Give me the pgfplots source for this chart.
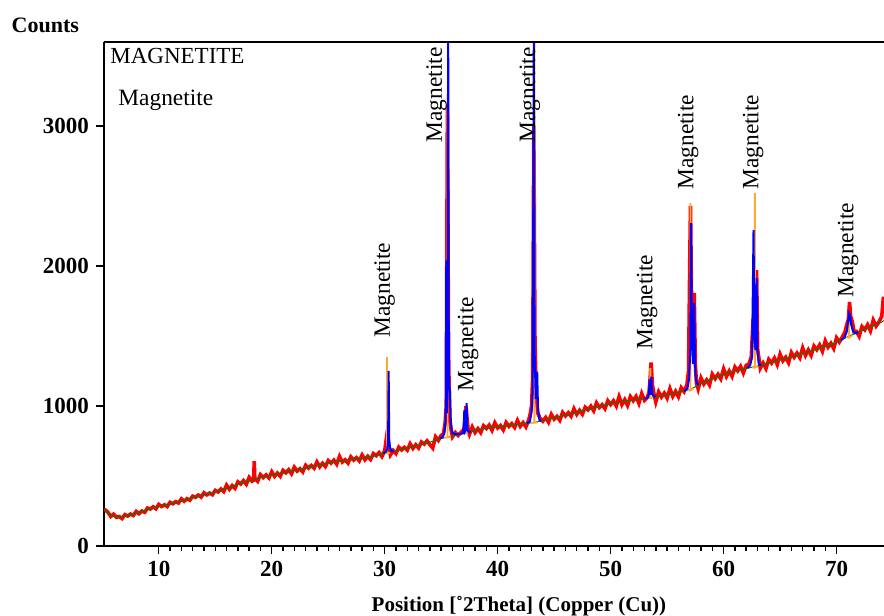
\documentclass[border=0pt]{standalone}
\usepackage{fontspec}
\setmainfont{Liberation Serif}
\usepackage{pgfplots}
\pgfplotsset{compat=1.18}
\usetikzlibrary{calc}
\definecolor{obsred}{RGB}{255,0,0}
\definecolor{calcgreen}{RGB}{0,128,0}
\definecolor{fitblue}{RGB}{0,0,255}
\definecolor{reforange}{RGB}{255,170,50}

% observed counts (noisy)
\pgfplotstableread{
x y
5.15 262
5.25 258
5.5 241
5.75 211
6.0 227
6.25 205
6.5 210
6.75 196
7.0 224
7.25 214
7.5 228
7.75 218
8.0 247
8.25 231
8.5 250
8.75 241
9.0 271
9.25 264
9.5 280
9.75 266
10.0 297
10.25 282
10.5 294
10.75 282
11.0 312
11.25 302
11.5 317
11.75 307
12.0 337
12.25 320
12.5 338
12.75 327
13.0 356
13.25 348
13.5 364
13.75 349
14.0 380
14.25 365
14.5 378
14.75 366
15.0 397
15.25 386
15.5 407
15.75 389
16.0 435
16.25 405
16.5 432
16.75 412
17.0 458
17.25 443
17.5 467
17.75 441
18.0 490
18.25 463
18.4 470
18.45 605
18.5 482
18.75 462
19.0 510
19.25 489
19.5 508
19.75 486
20.0 530
20.25 497
20.5 521
20.75 498
21.0 540
21.25 523
21.5 545
21.75 516
22.0 563
22.25 535
22.5 552
22.75 529
23.0 576
23.25 556
23.5 575
23.75 555
24.0 600
24.25 566
24.5 591
24.75 568
25.0 610
25.25 592
25.5 613
25.75 584
26.0 640
26.25 600
26.5 616
26.75 592
27.0 637
27.25 614
27.5 631
27.75 608
28.0 650
28.25 616
28.5 641
28.75 618
29.0 660
29.25 645
29.5 667
29.75 639
30.0 680
30.15 770
30.25 740
30.35 700
30.5 650
30.75 682
31.0 660
31.25 706
31.5 686
31.75 705
32.0 685
32.25 730
32.5 697
32.75 723
33.0 700
33.25 743
33.5 728
33.75 751
34.0 724
34.25 700
34.5 780
34.75 754
35.0 790
35.2 800
35.35 880
35.45 1000
35.55 3150
35.65 1400
35.75 900
35.9 820
36.0 780
36.25 810
36.5 789
36.75 812
37.0 830
37.1 880
37.2 1000
37.3 900
37.4 820
37.5 797
37.75 850
38.0 810
38.25 838
38.5 810
38.75 859
39.0 839
39.25 863
39.5 826
39.75 880
40.0 843
40.25 860
40.5 829
40.75 882
41.0 854
41.25 874
41.5 847
41.75 897
42.0 855
42.25 881
42.5 851
42.75 900
42.9 950
43.0 1000
43.1 1200
43.2 3000
43.3 1500
43.4 1100
43.55 950
43.75 912
44.0 892
44.25 918
44.5 884
44.75 940
45.0 906
45.25 926
45.5 898
45.75 954
46.0 929
46.25 952
46.5 927
46.75 980
47.0 940
47.25 969
47.5 941
47.75 991
48.0 972
48.25 999
48.5 966
48.75 1022
49.0 989
49.25 1009
49.5 981
49.75 1037
50.0 1010
50.25 1037
50.5 1000
50.75 1067
51.0 1010
51.25 1045
51.5 1004
51.75 1067
52.0 1038
52.25 1068
52.5 1019
52.75 1089
53.0 1040
53.25 1060
53.4 1100
53.5 1200
53.58 1310
53.7 1150
53.85 1080
54.0 1029
54.25 1101
54.5 1064
54.75 1092
55.0 1056
55.25 1124
55.5 1069
55.75 1105
56.0 1066
56.25 1130
56.5 1103
56.75 1150
56.9 1250
57.0 2000
57.07 2430
57.2 1500
57.4 1807
57.5 1300
57.6 1160
57.75 1121
58.0 1200
58.25 1157
58.5 1186
58.75 1150
59.0 1227
59.25 1195
59.5 1226
59.75 1194
60.0 1265
60.25 1211
60.5 1250
60.75 1212
61.0 1278
61.25 1251
61.5 1283
61.75 1236
62.0 1290
62.25 1300
62.45 1350
62.6 1600
62.72 1700
62.82 1500
62.92 1971
63.02 1400
63.15 1330
63.25 1270
63.5 1307
63.75 1268
64.0 1333
64.25 1307
64.5 1342
64.75 1296
65.0 1370
65.25 1323
65.5 1348
65.75 1309
66.0 1382
66.25 1348
66.5 1378
66.75 1345
67.0 1415
67.25 1361
67.5 1400
67.75 1362
68.0 1428
68.25 1402
68.5 1436
68.75 1391
69.0 1465
69.25 1420
69.5 1448
69.75 1411
70.0 1487
70.25 1457
70.5 1491
70.75 1530
70.9 1580
71.05 1620
71.15 1743
71.25 1640
71.4 1600
71.55 1530
71.75 1533
72.0 1498
72.25 1567
72.5 1544
72.75 1580
73.0 1537
73.25 1614
73.5 1571
73.75 1599
74.0 1640
74.15 1780
74.2 1700
}\observed

% calculated background
\pgfplotstableread{
x y
5.15 262
5.5 232
6 212
6.5 207
7 212
8 232
9 260
10 282
11 300
12 322
13 345
14 365
15 385
16 410
17 440
18 465
19 490
20 505
21 522
22 538
23 556
24 575
25 592
26 605
27 617
28 625
29 642
30 662
31 682
32 700
33 720
34 742
35 768
36 785
37 805
38 825
39 842
40 852
41 860
42 870
43 880
44 895
45 915
46 935
47 955
48 975
49 998
50 1018
51 1030
52 1042
53 1052
54 1065
55 1080
56 1098
57 1115
58 1160
59 1195
60 1225
61 1250
62 1268
63 1285
64 1305
65 1330
66 1350
67 1375
68 1400
69 1425
70 1455
71 1495
72 1530
73 1565
74 1600
74.2 1610
}\background

\begin{document}
\begin{tikzpicture}
\begin{axis}[
  scale only axis, width=390pt, height=252pt,
  xmin=5.15, xmax=74.2, ymin=0, ymax=3600,
  axis x line*=bottom, axis y line*=left,
  axis line style={-, line width=1pt},
  xtick={10,20,...,70}, minor x tick num=9,
  ytick={0,1000,2000,3000},
  tick align=outside, major tick length=4pt, minor tick length=2.5pt,
  every tick/.style={black, line width=0.7pt},
  tick label style={font=\fontsize{11.5}{13}\selectfont\bfseries},
  /pgf/number format/assume math mode=true,
  /pgf/number format/set thousands separator={},
  xlabel={Position [˚2Theta] (Copper (Cu))},
  every axis x label/.style={at={(rel axis cs:0.532,0)}, anchor=base, yshift=-32.5pt,
    font=\fontsize{10.5}{12}\selectfont\bfseries},
  ylabel={Counts},
  every axis y label/.style={at={(rel axis cs:0,1)}, anchor=east, xshift=-9pt, yshift=8.5pt,
    font=\fontsize{11}{13}\selectfont\bfseries},
  unbounded coords=jump,
]
\addplot[obsred, line width=1.8pt] table[x=x, y=y] {\observed};
\addplot[calcgreen, line width=0.5pt] table[x=x, y=y] {\background};
% reference pattern sticks
\addplot[reforange, line width=0.9pt] coordinates {
  (29.95,662) (30.2,662) (30.2,1350) (30.2,662) (30.45,665) (30.5,nan)
  (35.25,775) (35.55,775) (35.55,3230) (35.55,775) (35.85,778) (35.9,nan)
  (36.95,805) (37.14,805) (37.14,960) (37.14,805) (37.35,808) (37.4,nan)
  (42.95,880) (43.25,880) (43.25,3700) (43.25,880) (43.55,883) (43.6,nan)
  (53.3,1058) (53.52,1058) (53.52,1270) (53.52,1058) (53.75,1062) (53.8,nan)
  (56.8,1112) (57.07,1112) (57.07,2450) (57.07,1112) (57.35,1125) (57.4,nan)
  (62.5,1275) (62.77,1275) (62.77,2520) (62.77,1275) (63.0,1282) (63.05,nan)
  (70.85,1490) (71.1,1490) (71.1,1600) (71.1,1490) (71.35,1500)
};
% fitted profile
\addplot[fitblue, line width=1pt] coordinates {
  (29.9,662) (30.1,672) (30.22,690) (30.3,760) (30.35,1250) (30.4,760) (30.47,705) (30.6,680) (30.8,680) (30.9,nan)
  (34.9,768) (35.15,780) (35.3,820) (35.4,900) (35.45,2040) (35.5,950) (35.56,1100) (35.62,3700) (35.68,1150)
  (35.78,1114) (35.85,900) (35.95,810) (36.2,800) (36.6,800) (36.95,805) (37.05,970) (37.12,820) (37.18,830)
  (37.25,1021) (37.32,830) (37.45,815) (37.6,818) (37.7,nan)
  (42.6,876) (42.85,890) (43.0,960) (43.1,1100) (43.2,3700) (43.27,1400) (43.37,1050) (43.5,1245) (43.57,980)
  (43.7,900) (43.85,893) (43.9,nan)
  (53.0,1052) (53.3,1060) (53.4,1090) (53.45,1190) (53.52,1080) (53.6,1210) (53.68,1090) (53.8,1070) (54.0,1068) (54.1,nan)
  (56.5,1107) (56.8,1125) (56.95,1200) (57.05,1400) (57.12,2307) (57.2,1500) (57.3,1300) (57.4,1735) (57.47,1300)
  (57.55,1180) (57.75,1150) (57.8,nan)
  (62.1,1270) (62.35,1290) (62.52,1350) (62.65,2257) (62.73,1500) (62.82,1400) (62.92,1914) (63.0,1400) (63.12,1300) (63.3,1290) (63.4,nan)
  (70.4,1471) (70.7,1490) (70.9,1530) (71.02,1600) (71.12,1664) (71.2,1650) (71.3,1580) (71.45,1535) (71.65,1520) (71.9,1527)
};
\begin{scope}[every node/.style={rotate=90, anchor=west, inner sep=0pt, font=\fontsize{11.7}{14}\selectfont}]
  \node at (axis cs:30.0,1486) {Magnetite};
  \node at (axis cs:34.6,2880) {Magnetite};
  \node at (axis cs:37.38,1100) {Magnetite};
  \node at (axis cs:42.85,2880) {Magnetite};
  \node at (axis cs:53.23,1400) {Magnetite};
  \node at (axis cs:56.86,2543) {Magnetite};
  \node at (axis cs:62.62,2543) {Magnetite};
  \node at (axis cs:71.03,1771) {Magnetite};
\end{scope}
\node[anchor=west, inner sep=0pt, font=\fontsize{11.5}{14}\selectfont] at ($(rel axis cs:0,1)+(3pt,-7pt)$) {MAGNETITE};
\node[anchor=west, inner sep=0pt, font=\fontsize{11.7}{14}\selectfont] at ($(rel axis cs:0,1)+(7pt,-29pt)$) {Magnetite};
\end{axis}
\draw[line width=1pt] (current axis.north west) -- (current axis.north east);
\pgfresetboundingbox
\path[use as bounding box] ($(current axis.south west)+(-52pt,-35pt)$) rectangle ($(current axis.north east)+(0pt,21pt)$);
\end{tikzpicture}
\end{document}
